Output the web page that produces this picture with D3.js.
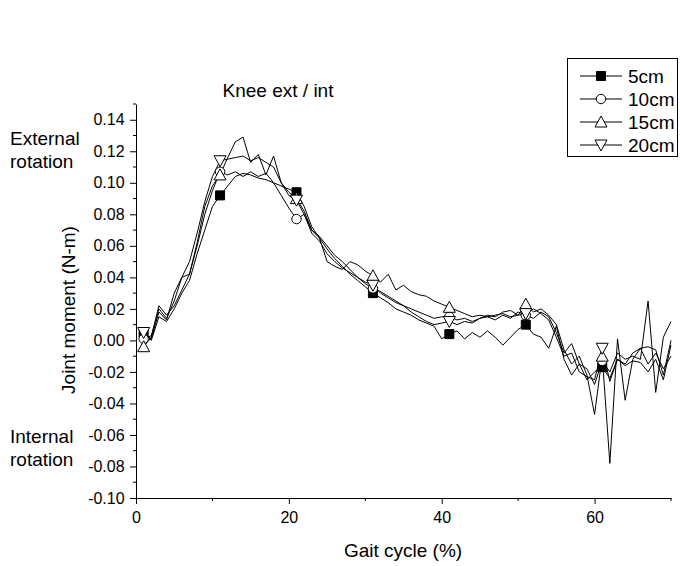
<!DOCTYPE html>
<html><head><meta charset="utf-8">
<script src="https://cdn.jsdelivr.net/npm/d3@7"></script>
<style>body{margin:0;background:#fff}svg{display:block}text{font-family:"Liberation Sans",Arial,sans-serif;fill:#000}</style>
</head><body>
<svg id="c" width="680" height="566"></svg>
<script>
const xValues = d3.range(1, 71);
const s5cm = [0.005,0.000,0.015,0.012,0.020,0.030,0.038,0.055,0.070,0.085,
  0.092,0.098,0.104,0.106,0.105,0.103,0.102,0.100,0.098,0.096,
  0.094,0.085,0.072,0.065,0.058,0.052,0.047,0.042,0.038,0.034,
  0.030,0.027,0.024,0.020,0.018,0.016,0.013,0.011,0.009,0.001,
  0.004,0.006,0.001,0.005,0.002,0.006,0.002,-0.003,0.002,0.007,
  0.010,0.004,0.002,-0.005,0.009,-0.012,-0.022,-0.015,-0.025,-0.020,
  -0.017,-0.024,-0.012,-0.016,-0.013,-0.014,-0.020,-0.012,-0.025,-0.003];
const s10cm = [0.001,0.003,0.020,0.014,0.025,0.040,0.042,0.060,0.080,0.095,
  0.107,0.105,0.107,0.104,0.107,0.104,0.106,0.100,0.092,0.084,
  0.077,0.080,0.070,0.066,0.060,0.054,0.050,0.045,0.040,0.036,
  0.033,0.031,0.028,0.025,0.022,0.020,0.018,0.016,0.014,0.015,
  0.015,0.013,0.014,0.012,0.014,0.015,0.013,0.016,0.014,0.018,
  0.016,0.014,0.018,0.015,0.005,-0.008,-0.002,-0.015,-0.018,-0.028,
  -0.013,-0.020,-0.008,-0.012,-0.010,-0.012,0.025,-0.033,0.002,0.012];
const s15cm = [-0.004,0.002,0.022,0.016,0.022,0.032,0.042,0.062,0.085,0.098,
  0.105,0.116,0.126,0.129,0.113,0.118,0.105,0.117,0.100,0.094,
  0.090,0.082,0.070,0.065,0.050,0.047,0.045,0.050,0.048,0.044,
  0.041,0.037,0.042,0.032,0.035,0.031,0.029,0.028,0.025,0.023,
  0.021,0.019,0.017,0.015,0.016,0.015,0.016,0.017,0.015,0.016,
  0.023,0.018,0.020,0.016,0.010,-0.006,-0.015,-0.010,-0.022,-0.047,
  -0.010,-0.078,0.001,-0.038,-0.012,-0.005,-0.015,-0.008,-0.018,-0.010];
const s20cm = [0.005,0.001,0.018,0.013,0.030,0.040,0.050,0.068,0.088,0.104,
  0.114,0.115,0.116,0.117,0.114,0.116,0.113,0.110,0.100,0.092,
  0.089,0.080,0.068,0.063,0.055,0.050,0.046,0.043,0.040,0.037,
  0.035,0.030,0.027,0.024,0.022,0.018,0.015,0.012,0.010,0.011,
  0.012,0.010,0.012,0.011,0.014,0.016,0.015,0.018,0.019,0.016,
  0.017,0.020,0.017,0.013,0.002,-0.010,-0.008,-0.020,-0.023,-0.025,
  -0.005,-0.026,-0.012,-0.015,-0.008,-0.005,-0.004,-0.006,-0.022,0.000];
const seriesNames = ["5cm","10cm","15cm","20cm"];
const seriesSymbols = ["square","circle","triangleUp","triangleDown"];
const xTicks = [0,20,40,60];
const yTicks = [-0.10,-0.08,-0.06,-0.04,-0.02,0.00,0.02,0.04,0.06,0.08,0.10,0.12,0.14];
const markerEvery = 10;

const series = [s5cm,s10cm,s15cm,s20cm].map((v,i)=>({name:seriesNames[i],sym:seriesSymbols[i],pts:v.map((y,j)=>[xValues[j],y])}));

const svg = d3.select("#c");
const x = d3.scaleLinear().domain([0,70]).range([136,671]);
const y = d3.scaleLinear().domain([-0.10,0.15]).range([498,104]);

// axes
const xAxis = d3.axisBottom(x).tickValues(xTicks).tickFormat(d3.format("d")).tickSize(6).tickSizeOuter(0);
const gx = svg.append("g").attr("transform","translate(0,498)").call(xAxis);
gx.selectAll("text").attr("font-size",16).attr("dy","1.0em");
gx.append("g").selectAll("line").data(d3.range(10,71,20)).join("line")
  .attr("x1",d=>x(d)).attr("x2",d=>x(d)).attr("y1",0).attr("y2",3).attr("stroke","#000");

const fmtY = d => d3.format(".2f")(d).replace("\u2212","-");
const yAxis = d3.axisLeft(y).tickValues(yTicks).tickFormat(fmtY).tickSize(6).tickSizeOuter(0);
const gy = svg.append("g").attr("transform","translate(136,0)").call(yAxis);
gy.selectAll("text").attr("font-size",16).attr("dx","-0.15em");
gy.append("g").selectAll("line").data(d3.range(-0.09,0.151,0.02)).join("line")
  .attr("y1",d=>y(d)).attr("y2",d=>y(d)).attr("x1",0).attr("x2",-3).attr("stroke","#000");
svg.selectAll(".domain").attr("stroke","#000");

// lines
const line = d3.line().x(d=>x(d[0])).y(d=>y(d[1]));
svg.append("g").selectAll("path").data(series).join("path")
  .attr("d",d=>line(d.pts)).attr("fill","none").attr("stroke","#000").attr("stroke-width",1);

function symPath(sym){
  if(sym==="square") return "M-4.5,-4.5H4.5V4.5H-4.5Z";
  if(sym==="circle") return d3.symbol(d3.symbolCircle,70)();
  if(sym==="triangleUp") return "M0,-6L6,5H-6Z";
  return "M0,6L6,-5H-6Z";
}
function symFill(sym){return sym==="square"?"#000":"#fff";}

series.forEach(s=>{
  svg.append("g").selectAll("path").data(s.pts.filter((d,i)=>i%markerEvery===0)).join("path")
    .attr("transform",d=>`translate(${x(d[0])},${y(d[1])})`)
    .attr("d",symPath(s.sym)).attr("fill",symFill(s.sym)).attr("stroke","#000").attr("stroke-width",1);
});

// title & labels
svg.append("text").attr("x",278).attr("y",97).attr("text-anchor","middle").attr("font-size",19).text("Knee ext / int");
svg.append("text").attr("x",403).attr("y",557).attr("text-anchor","middle").attr("font-size",19).text("Gait cycle (%)");
svg.append("text").attr("transform","translate(75,310) rotate(-90)").attr("text-anchor","middle").attr("font-size",19).text("Joint moment (N-m)");
[["External",145],["rotation",168],["Internal",443],["rotation",466]].forEach(([t,yy])=>{
  svg.append("text").attr("x",10).attr("y",yy).attr("font-size",19).text(t);
});

// legend
const lg = svg.append("g");
lg.append("rect").attr("x",567.5).attr("y",58.5).attr("width",110).attr("height",98).attr("fill","#fff").attr("stroke","#000");
series.forEach((s,i)=>{
  const yy = 76 + i*23;
  lg.append("line").attr("x1",580).attr("x2",622).attr("y1",yy).attr("y2",yy).attr("stroke","#000");
  lg.append("path").attr("transform",`translate(601,${yy})`).attr("d",symPath(s.sym)).attr("fill",symFill(s.sym)).attr("stroke","#000");
  lg.append("text").attr("x",628).attr("y",yy+7).attr("font-size",19).text(s.name);
});
</script>
</body></html>
